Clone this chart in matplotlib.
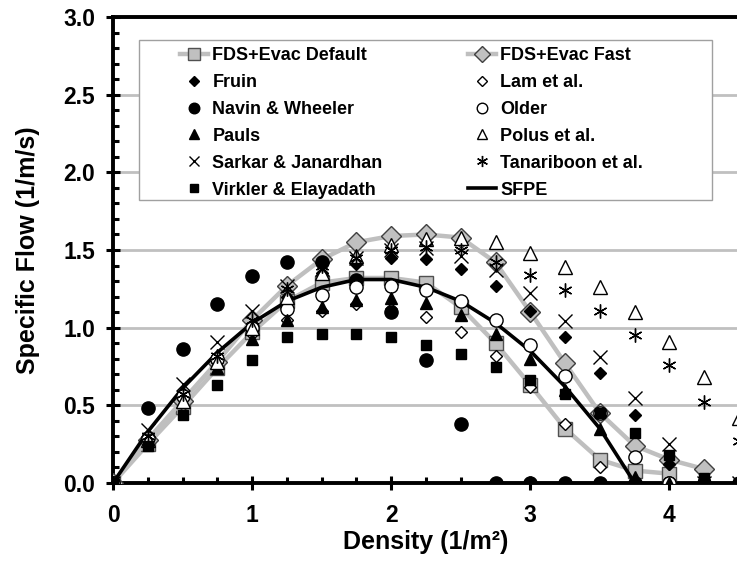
import matplotlib
matplotlib.use("Agg")
import matplotlib.pyplot as plt
from matplotlib.ticker import MultipleLocator, FixedLocator
from matplotlib.patches import Rectangle

plt.rcParams['font.family'] = ['Liberation Sans', 'DejaVu Sans']
plt.rcParams['font.weight'] = 'bold'

# ---------------- data ----------------
density = [0.0, 0.25, 0.5, 0.75, 1.0, 1.25, 1.5, 1.75, 2.0, 2.25, 2.5,
           2.75, 3.0, 3.25, 3.5, 3.75, 4.0, 4.25, 4.5]

fds_default_x = [0.0, 0.25, 0.5, 0.75, 1.0, 1.25, 1.5, 1.75, 2.0, 2.25, 2.5,
                 2.75, 3.0, 3.25, 3.5, 3.75, 4.0]
fds_default = [0.0, 0.25, 0.49, 0.74, 0.97, 1.17, 1.29, 1.32, 1.32, 1.29, 1.13,
               0.90, 0.63, 0.35, 0.15, 0.08, 0.06]

fds_fast_x = [0.0, 0.25, 0.5, 0.75, 1.0, 1.25, 1.5, 1.75, 2.0, 2.25, 2.5,
              2.75, 3.0, 3.25, 3.5, 3.75, 4.0, 4.25]
fds_fast = [0.0, 0.28, 0.53, 0.78, 1.05, 1.27, 1.44, 1.55, 1.59, 1.60, 1.58,
            1.42, 1.10, 0.77, 0.45, 0.24, 0.15, 0.09]

fruin = [0.0, 0.31, 0.58, 0.82, 1.02, 1.20, 1.35, 1.41, 1.45, 1.44, 1.38,
         1.27, 1.11, 0.94, 0.71, 0.44, 0.12, 0.02, 0.0]
lam = [0.0, 0.30, 0.55, 0.78, 0.96, 1.05, 1.11, 1.15, 1.12, 1.07, 0.97,
       0.82, 0.62, 0.38, 0.10, 0.0, 0.0, 0.0, 0.0]
navin = [0.0, 0.48, 0.86, 1.15, 1.33, 1.42, 1.42, 1.31, 1.10, 0.79, 0.38,
         0.0, 0.0, 0.0, 0.0, 0.0, 0.0, 0.0, 0.0]
older_x = [0.0, 0.25, 0.5, 0.75, 1.0, 1.25, 1.5, 1.75, 2.0, 2.25, 2.5,
           2.75, 3.0, 3.25, 3.5, 3.75, 4.0]
older = [0.0, 0.29, 0.56, 0.80, 1.00, 1.12, 1.21, 1.26, 1.27, 1.24, 1.17,
         1.05, 0.89, 0.69, 0.45, 0.17, 0.0]
pauls = [0.0, 0.28, 0.52, 0.74, 0.93, 1.05, 1.13, 1.18, 1.19, 1.16, 1.08,
         0.96, 0.80, 0.60, 0.35, 0.04, 0.0, 0.0, 0.0]
polus = [0.0, 0.28, 0.53, 0.78, 1.00, 1.20, 1.35, 1.46, 1.53, 1.57, 1.58,
         1.55, 1.48, 1.39, 1.26, 1.10, 0.91, 0.68, 0.42]
sarkar = [0.0, 0.34, 0.64, 0.91, 1.11, 1.27, 1.38, 1.45, 1.50, 1.51, 1.46,
          1.37, 1.22, 1.04, 0.81, 0.55, 0.25, 0.0, 0.0]
tanariboon = [0.0, 0.30, 0.57, 0.82, 1.05, 1.25, 1.40, 1.45, 1.50, 1.52, 1.50,
              1.42, 1.34, 1.24, 1.11, 0.95, 0.76, 0.52, 0.27]
virkler = [0.0, 0.24, 0.44, 0.63, 0.79, 0.94, 0.96, 0.96, 0.94, 0.89, 0.83,
           0.75, 0.66, 0.57, 0.45, 0.32, 0.18, 0.03, 0.0]

sfpe_x = [0.0, 0.25, 0.5, 0.75, 1.0, 1.25, 1.5, 1.75, 2.0, 2.25, 2.5,
          2.75, 3.0, 3.25, 3.5, 3.75]
sfpe = [0.0, 0.33, 0.61, 0.84, 1.03, 1.17, 1.26, 1.31, 1.31, 1.26, 1.17,
        1.03, 0.85, 0.62, 0.35, 0.0]

# ---------------- figure ----------------
W, H = 737, 563
fig = plt.figure(figsize=(W / 100, H / 100), dpi=100)
AX_L, AX_R, AX_T, AX_B = 113, 739, 17, 483
ax = fig.add_axes([AX_L / W, (H - AX_B) / H, (AX_R - AX_L) / W, (AX_B - AX_T) / H])


def ax_xy(px, py):
    return (px - AX_L) / (AX_R - AX_L), (AX_B - py) / (AX_B - AX_T)


gray_line = '#bfbfbf'
gray_fill = '#c0c0c0'

h_def, = ax.plot(fds_default_x, fds_default, '-', color=gray_line, lw=3.2,
                 marker='s', ms=10.5, mfc=gray_fill, mec='#505050', mew=1.0,
                 zorder=3, label='FDS+Evac Default')
h_fast, = ax.plot(fds_fast_x, fds_fast, '-', color=gray_line, lw=3.2,
                  marker='D', ms=10.5, mfc=gray_fill, mec='#404040', mew=1.0,
                  zorder=3, label='FDS+Evac Fast')
h_sfpe, = ax.plot(sfpe_x, sfpe, '-', color='black', lw=2.6, zorder=4,
                  label='SFPE')

mk = dict(ls='none', zorder=5)
h_fruin, = ax.plot(density, fruin, marker='D', ms=6.5, mfc='black', mec='black',
                   label='Fruin', **mk)
h_lam, = ax.plot(density, lam, marker='D', ms=6.5, mfc='white', mec='black',
                 mew=1.0, label='Lam et al.', **mk)
h_navin, = ax.plot(density, navin, marker='o', ms=9.5, mfc='black', mec='black',
                   label='Navin & Wheeler', **mk)
h_older, = ax.plot(older_x, older, marker='o', ms=9.5, mfc='white', mec='black',
                   mew=1.0, label='Older', **mk)
h_pauls, = ax.plot(density, pauls, marker='^', ms=9, mfc='black', mec='black',
                   label='Pauls', **mk)
h_polus, = ax.plot(density, polus, marker='^', ms=9.5, mfc='white', mec='black',
                   mew=1.0, label='Polus et al.', **mk)
h_sarkar, = ax.plot(density, sarkar, marker='x', ms=9.5, mec='black', mew=1.0,
                    label='Sarkar & Janardhan', **mk)
h_tan, = ax.plot(density, tanariboon, marker=(6, 2, 0), ms=10, mec='black',
                 mew=1.0, label='Tanariboon et al.', **mk)
h_virk, = ax.plot(density, virkler, marker='s', ms=7.5, mfc='black', mec='black',
                  label='Virkler & Elayadath', **mk)

ax.set_xlim(0, 4.5)
ax.set_ylim(0, 3.0)
ax.xaxis.set_major_locator(FixedLocator([0, 1, 2, 3, 4]))
ax.xaxis.set_minor_locator(MultipleLocator(0.25))
ax.yaxis.set_minor_locator(MultipleLocator(0.1))
ax.set_yticks([0, 0.5, 1.0, 1.5, 2.0, 2.5, 3.0])
ax.set_yticklabels(['0.0', '0.5', '1.0', '1.5', '2.0', '2.5', '3.0'])

ax.grid(axis='y', which='major', color='#c0c0c0', lw=2.0, zorder=0)
ax.set_axisbelow(True)

for side in ['left', 'bottom', 'top']:
    ax.spines[side].set_linewidth(2.8)
    ax.spines[side].set_color('black')
ax.spines['right'].set_visible(False)

ax.tick_params(which='major', direction='inout', length=10, width=2.2,
               labelsize=16.5, pad=8)
ax.tick_params(axis='x', which='major', pad=10)
ax.tick_params(which='minor', direction='in', length=4, width=2.2)
ax.tick_params(top=False, right=False, which='both')
for lab in ax.get_xticklabels() + ax.get_yticklabels():
    lab.set_fontweight('bold')

ax.set_xlabel('Density (1/m²)', fontsize=18, fontweight='bold', labelpad=2)
ax.set_ylabel('Specific Flow (1/m/s)', fontsize=18, fontweight='bold')
ax.yaxis.set_label_coords(ax_xy(40, 0)[0], 0.5)

# legend frame drawn separately
x0, y0 = ax_xy(139, 200)
x1, y1 = ax_xy(712, 40)
frame = Rectangle((x0, y0), x1 - x0, y1 - y0, transform=ax.transAxes,
                  facecolor='white', edgecolor='#a0a0a0', lw=1.0, zorder=9)
ax.add_patch(frame)

handles = [h_def, h_fruin, h_navin, h_pauls, h_sarkar, h_virk,
           h_fast, h_lam, h_older, h_polus, h_tan, h_sfpe]
lx, ly = ax_xy(180, 47)
leg = ax.legend(handles=handles, ncol=2, loc='upper left',
                bbox_to_anchor=(lx, ly), borderaxespad=0, borderpad=0,
                fontsize=13, frameon=False,
                handlelength=1.55, handletextpad=0.25, columnspacing=4.7,
                labelspacing=0.55, markerscale=0.8)
leg.set_zorder(10)
for t in leg.get_texts():
    t.set_fontweight('bold')

fig.savefig('out.png', dpi=100)
